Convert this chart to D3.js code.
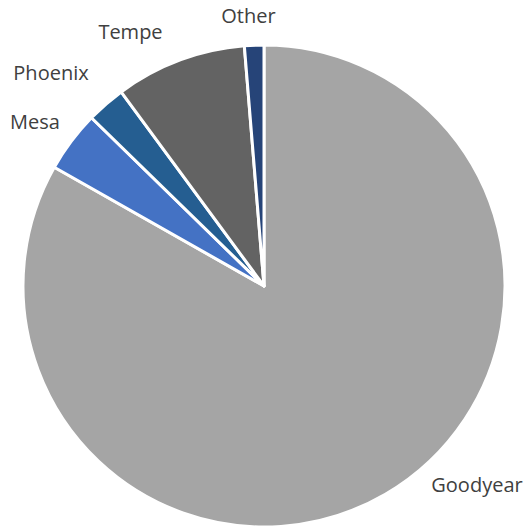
<!DOCTYPE html>
<html><head><meta charset="utf-8">
<script src="https://cdn.jsdelivr.net/npm/d3@7"></script>
<style>html,body{margin:0;padding:0;background:#fff;}</style>
</head><body>
<svg id="chart" width="527" height="529"></svg>
<script>
const categories = ["Goodyear", "Mesa", "Phoenix", "Tempe", "Other"];
const values = [83.2, 4.1, 2.6, 8.8, 1.3];
const colors = ["#A5A5A5", "#4472C4", "#255E91", "#636363", "#264478"];
// label anchor points (layout only)
const labelPos = [[477, 492], [35, 129], [51, 80], [130.5, 39], [248.5, 23]];

const svg = d3.select("#chart");
const cx = 264, cy = 286, r = 241;
const data = categories.map((c, i) => ({cat: c, val: values[i], color: colors[i]}));
const pie = d3.pie().sort(null).value(d => d.val);
const arc = d3.arc().innerRadius(0).outerRadius(r);
const g = svg.append("g").attr("transform", `translate(${cx},${cy})`);
g.selectAll("path").data(pie(data)).join("path")
  .attr("d", arc).attr("fill", d => d.data.color)
  .attr("stroke", "#fff").attr("stroke-width", 3).attr("stroke-linejoin", "round");
svg.selectAll("text.lbl").data(data).join("text").attr("class", "lbl")
  .attr("x", (d, i) => labelPos[i][0]).attr("y", (d, i) => labelPos[i][1])
  .attr("text-anchor", "middle")
  .attr("font-family", "'Open Sans', sans-serif").attr("font-size", 20)
  .attr("fill", "#404040").text(d => d.cat);
</script>
</body></html>
